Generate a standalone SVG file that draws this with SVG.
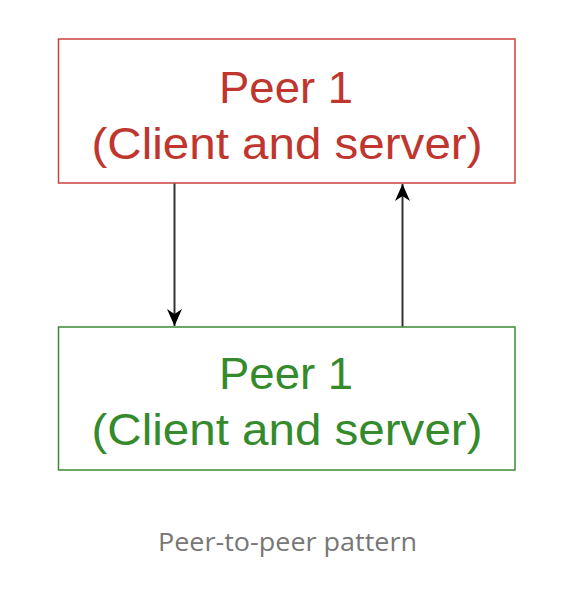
<svg xmlns="http://www.w3.org/2000/svg" width="582" height="602" viewBox="0 0 582 602">
<style>
.box{fill:#fff;stroke-width:1.5}
.red{stroke:#c8413a}
.green{stroke:#3a8a32}
.t{font-family:"Liberation Sans",Arial,sans-serif;font-size:45px;text-anchor:middle}
.tr{fill:#c0352d}
.tg{fill:#358a2c}
.conn{stroke:#333;stroke-width:2;fill:none}
.cap{font-family:"Open Sans","Noto Sans",sans-serif;font-size:26px;fill:#777;text-anchor:middle}
</style>
<defs>
<marker id="arr" viewBox="0 0 17 15" refX="17" refY="7.5" markerWidth="17" markerHeight="15" markerUnits="userSpaceOnUse" orient="auto">
<path d="M0,0 L17,7.5 L0,15 L5,7.5 Z" fill="#000"/>
</marker>
</defs>
<rect width="582" height="602" fill="#fff"/>
<g id="peer-top">
<rect class="box red" x="58.5" y="39" width="456.5" height="144"/>
<text class="t tr" x="286" y="102.5" textLength="134" lengthAdjust="spacingAndGlyphs">Peer 1</text>
<text class="t tr" x="287" y="158.5" textLength="391" lengthAdjust="spacingAndGlyphs">(Client and server)</text>
</g>
<g id="peer-bottom">
<rect class="box green" x="58.5" y="327" width="456.5" height="143"/>
<text class="t tg" x="286" y="388.5" textLength="134" lengthAdjust="spacingAndGlyphs">Peer 1</text>
<text class="t tg" x="287" y="445" textLength="391" lengthAdjust="spacingAndGlyphs">(Client and server)</text>
</g>
<g id="connectors">
<line class="conn" x1="174.5" y1="183.5" x2="174.5" y2="326" marker-end="url(#arr)"/>
<line class="conn" x1="402.5" y1="326.5" x2="402.5" y2="184" marker-end="url(#arr)"/>
</g>
<text class="cap" x="287.5" y="551" textLength="259" lengthAdjust="spacingAndGlyphs">Peer-to-peer pattern</text>
</svg>
